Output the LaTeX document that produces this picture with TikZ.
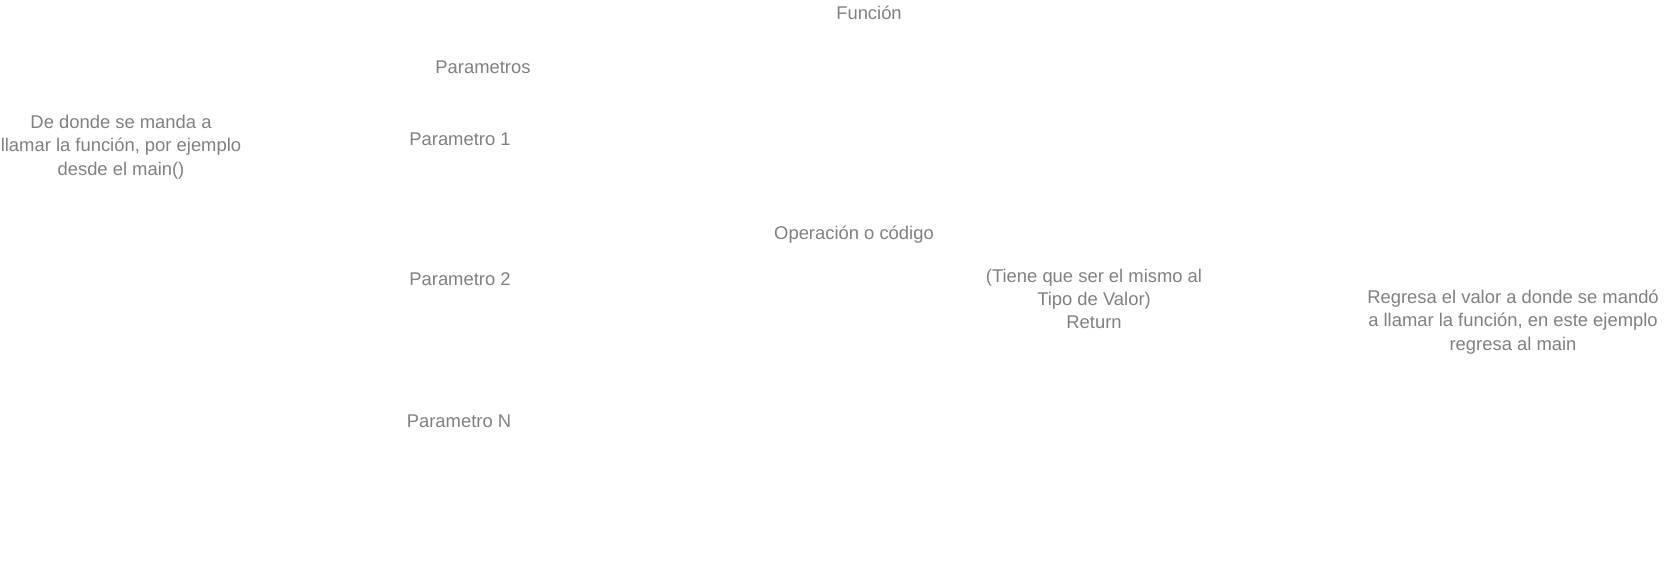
\documentclass[tikz,border=0pt]{standalone}
\usepackage{fontspec}
\setmainfont{Liberation Sans}
\usepackage{tikz}
\usetikzlibrary{positioning}

\begin{document}
\begin{tikzpicture}[
        x=0.5pt, y=-0.5pt,
        txt/.style={inner sep=0pt, align=center, text=black!50, font=\fontsize{9.2}{11.7}\selectfont}
    ]
        \useasboundingbox (0,0) rectangle (1666,575);

        % Titles
        \node[txt] (func) at (869, 13) {Función};
        \node[txt] (params) at (483, 67) {Parametros};

        % Caller
        \node[txt] (caller) at (121, 147) {De donde se manda a\\llamar la función, por ejemplo\\desde el main()};

        % Parameters
        \node[txt] (p1) at (460, 139) {Parametro 1};
        \node[txt] (p2) at (460, 279) {Parametro 2};
        \node[txt] (pn) at (459, 421) {Parametro N};

        % Body and return
        \node[txt] (body) at (854, 235) {Operación o código};
        \node[txt] (ret) at (1094, 299) {(Tiene que ser el mismo al\\Tipo de Valor)\\Return};
        \node[txt] (back) at (1513, 322) {Regresa el valor a donde se mandó\\a llamar la función, en este ejemplo\\regresa al main};

    \end{tikzpicture}
\end{document}
